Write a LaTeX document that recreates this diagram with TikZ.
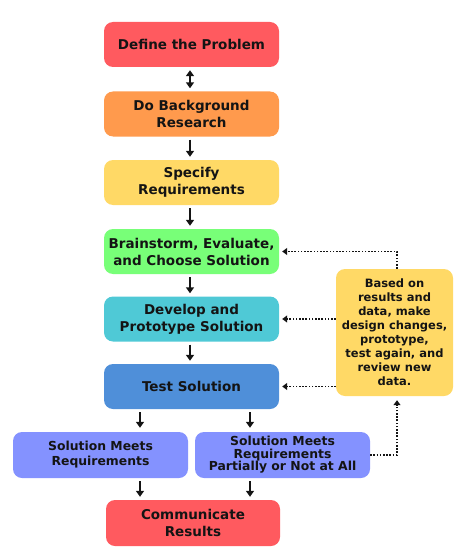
\documentclass[tikz,border=0pt]{standalone}
\usepackage{fontspec}
\setmainfont{DejaVu Sans}
\usetikzlibrary{arrows.meta}
\definecolor{cred}{HTML}{FF5A5F}
\definecolor{corange}{HTML}{FF9A4D}
\definecolor{cyellow}{HTML}{FFD966}
\definecolor{cgreen}{HTML}{78FF78}
\definecolor{ccyan}{HTML}{4FC9D6}
\definecolor{cblue}{HTML}{4F8FD9}
\definecolor{clav}{HTML}{8492FF}
\definecolor{textc}{HTML}{141414}
\begin{document}
\begin{tikzpicture}[x=1pt,y=-1pt,
  box/.style={rounded corners=9pt, minimum width=175pt, minimum height=45pt,
    align=center, inner sep=2pt, text=textc,
    font=\bfseries\fontsize{13.5}{17}\selectfont},
  smallbox/.style={box, minimum height=46pt, font=\bfseries\fontsize{12.4}{15}\selectfont},
  arr/.style={-{Triangle[length=6pt,width=8pt]}, line width=2pt, textc},
  darr/.style={{Triangle[length=6pt,width=8pt]}-{Triangle[length=6pt,width=8pt]}, line width=2pt, textc},
  fb/.style={-{Triangle[length=5pt,width=7pt]}, line width=1.6pt, textc,
    dash pattern=on 1.6pt off 1.6pt}
]
\useasboundingbox (0,0) rectangle (460,559);

\node[box, fill=cred]    (n1) at (191.5,44.5) {Define the Problem};
\node[box, fill=corange] (n2) at (191.5,114) {Do Background\\Research};
\node[box, fill=cyellow] (n3) at (191.5,182.5) {Specify\\Requirements};
\node[box, fill=cgreen]  (n4) at (191.5,251.5) {Brainstorm, Evaluate,\\and Choose Solution};
\node[box, fill=ccyan]   (n5) at (191.5,319) {Develop and\\Prototype Solution};
\node[box, fill=cblue]   (n6) at (191.5,386.5) {Test Solution};

\node[smallbox, fill=clav] (meets) at (100.5,455) {Solution Meets\\Requirements};
\node[smallbox, fill=clav, font=\bfseries\fontsize{12.4}{12.5}\selectfont] (partial) at (282.5,455)
  {Solution Meets\\Requirements\\Partially or Not at All};
\node[box, fill=cred, minimum height=46pt, minimum width=174pt] (comm) at (193,523) {Communicate\\Results};

\node[rounded corners=9pt, fill=cyellow, minimum width=117pt, minimum height=127pt,
  align=center, inner sep=1pt, text=textc,
  font=\bfseries\fontsize{11.5}{14}\selectfont] (side) at (394.5,332.5)
  {Based on\\results and\\data, make\\design changes,\\prototype,\\test again, and\\review new\\data.};

% main vertical connectors
\draw[darr, shorten <=3pt, shorten >=3pt] (n1.south -| 190,0) -- (n2.north -| 190,0);
\draw[arr, shorten <=3pt, shorten >=3pt] (n2.south -| 190,0) -- (n3.north -| 190,0);
\draw[arr, shorten <=3pt, shorten >=3pt] (n3.south -| 190,0) -- (n4.north -| 190,0);
\draw[arr, shorten <=3pt, shorten >=3pt] (n4.south -| 190,0) -- (n5.north -| 190,0);
\draw[arr, shorten <=3pt, shorten >=3pt] (n5.south -| 190,0) -- (n6.north -| 190,0);

\coordinate (xl) at (140,0);
\coordinate (xr) at (250,0);
\draw[arr, shorten <=3pt, shorten >=4pt] (n6.south -| xl) -- (meets.north -| xl);
\draw[arr, shorten <=3pt, shorten >=4pt] (n6.south -| xr) -- (partial.north -| xr);
\draw[arr, shorten <=3pt, shorten >=3pt] (meets.south -| xl) -- (comm.north -| xl);
\draw[arr, shorten <=3pt, shorten >=3pt] (partial.south -| xr) -- (comm.north -| xr);

% feedback dotted connectors
\coordinate (xs) at (397,0);
\draw[fb, shorten >=3pt] (side.north -| xs) -- (xs |- n4.east) -- (n4.east);
\draw[fb, shorten >=3pt] (side.west |- n5.east) -- (n5.east);
\draw[fb, shorten >=3pt] (side.west |- n6.east) -- (n6.east);
\draw[fb, shorten >=4pt] (partial.east) -- (xs |- partial.east) -- (side.south -| xs);
\end{tikzpicture}
\end{document}
